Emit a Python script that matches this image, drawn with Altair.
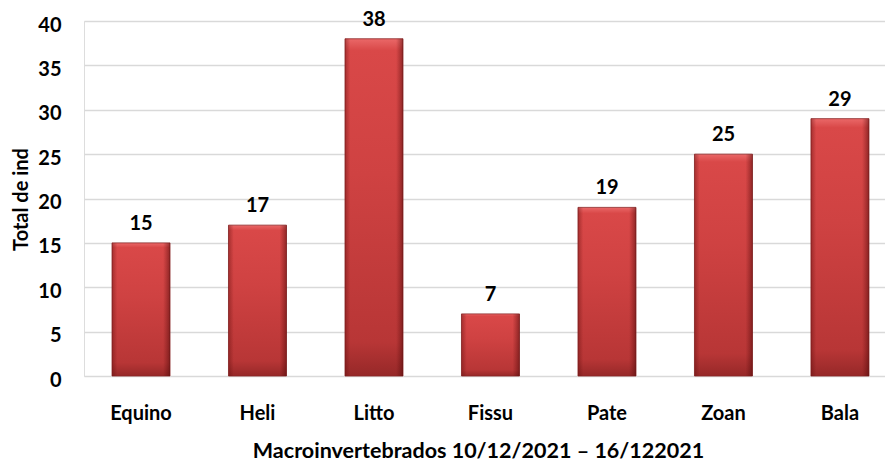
import altair as alt
import pandas as pd

categories = ["Equino", "Heli", "Litto", "Fissu", "Pate", "Zoan", "Bala"]
values = [15, 17, 38, 7, 19, 25, 29]
y_ticks = [0, 5, 10, 15, 20, 25, 30, 35, 40]

df = pd.DataFrame({"cat": categories, "val": values})

FONT = "Lato"

x_enc = alt.X(
    "cat:N",
    sort=categories,
    scale=alt.Scale(paddingInner=0.502, paddingOuter=0.189, align=0.636),
    axis=alt.Axis(
        title="Macroinvertebrados 10/12/2021 – 16/122021",
        labelAngle=0,
        labelFont=FONT, labelFontSize=20, labelFontWeight="bold", labelColor="black",
        labelBaseline="alphabetic", labelPadding=43,
        ticks=False, tickSize=0, domainOpacity=0, grid=False,
        titleFont=FONT, titleFontSize=21.5, titleFontWeight="bold", titleColor="black",
        titleX=394, titleY=81, titleAnchor="middle", titleAlign="center", titleBaseline="alphabetic",
    ),
)
y_enc = alt.Y(
    "val:Q",
    scale=alt.Scale(domain=[0, 40], nice=False),
    axis=alt.Axis(
        title="Total de ind",
        values=y_ticks,
        labelFont=FONT, labelFontSize=20, labelFontWeight="bold", labelColor="black",
        labelPadding=23, labelOffset=4,
        ticks=False, tickSize=0, domainColor="white", domainOpacity=0,
        grid=True, gridColor="#d9d9d9", gridWidth=1.5,
        titleFont=FONT, titleFontSize=20, titleFontWeight="bold", titleColor="black",
        titleAngle=270, titleX=-63, titleY=178, titleAlign="center", titleBaseline="middle",
    ),
)

vgrad = alt.Gradient(
    gradient="linear",
    stops=[
        alt.GradientStop(color="#ea6868", offset=0),
        alt.GradientStop(color="#d94848", offset=0.035),
        alt.GradientStop(color="#cf4242", offset=0.4),
        alt.GradientStop(color="#b83636", offset=0.9),
        alt.GradientStop(color="#962828", offset=1),
    ],
    x1=0, x2=0, y1=0, y2=1,
)
hgrad = alt.Gradient(
    gradient="linear",
    stops=[
        alt.GradientStop(color="rgba(90,10,10,0.4)", offset=0),
        alt.GradientStop(color="rgba(90,10,10,0)", offset=0.09),
        alt.GradientStop(color="rgba(90,10,10,0)", offset=0.88),
        alt.GradientStop(color="rgba(70,5,5,0.5)", offset=1),
    ],
    x1=0, x2=1, y1=0, y2=0,
)

base = alt.Chart(df).encode(x=x_enc, y=y_enc)
bars = base.mark_bar(fill=vgrad, stroke="#8a2626", strokeWidth=0.8)
overlay = base.mark_bar(fill=hgrad)
labels = base.mark_text(
    font=FONT, fontSize=20, fontWeight="bold", color="black",
    baseline="alphabetic", dy=-13,
).encode(text="val:Q")

chart = (
    alt.layer(bars, overlay, labels)
    .properties(
        width=801, height=355,
        autosize=alt.AutoSizeParams(type="none"),
        padding={"left": 84, "top": 21, "right": 0, "bottom": 85},
    )
    .configure_view(strokeOpacity=0)
    .configure(background="white")
)

chart.save("out.html", embed_options={"renderer": "svg", "actions": False})
